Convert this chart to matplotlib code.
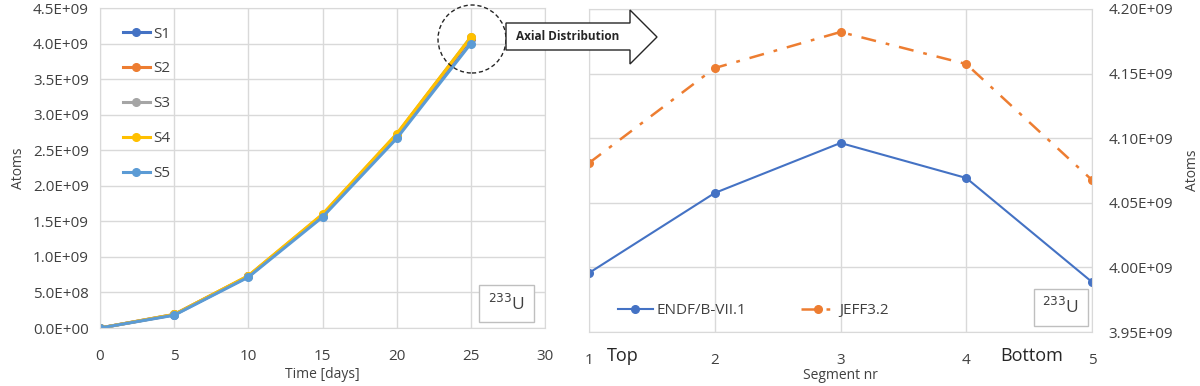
import matplotlib
matplotlib.use("Agg")
import matplotlib.pyplot as plt
from matplotlib.patches import Polygon, Circle

plt.rcParams['font.family'] = ['Open Sans', 'DejaVu Sans']

# Left chart data
time_days = [0, 5, 10, 15, 20, 25]
s1 = [0.0, 0.185e9, 0.725e9, 1.58e9, 2.70e9, 4.07e9]
s2 = [0.0, 0.19e9, 0.73e9, 1.59e9, 2.72e9, 4.08e9]
s3 = [0.0, 0.19e9, 0.73e9, 1.59e9, 2.72e9, 4.09e9]
s4 = [0.0, 0.19e9, 0.735e9, 1.60e9, 2.73e9, 4.09e9]
s5 = [0.0, 0.18e9, 0.715e9, 1.56e9, 2.665e9, 4.00e9]
series_names = ['S1', 'S2', 'S3', 'S4', 'S5']
series_colors = ['#4472C4', '#ED7D31', '#A5A5A5', '#FFC000', '#5B9BD5']
left_yticks = [0, 0.5e9, 1.0e9, 1.5e9, 2.0e9, 2.5e9, 3.0e9, 3.5e9, 4.0e9, 4.5e9]
left_yticklabels = ['0.0E+00', '5.0E+08', '1.0E+09', '1.5E+09', '2.0E+09',
                    '2.5E+09', '3.0E+09', '3.5E+09', '4.0E+09', '4.5E+09']

# Right chart data
segments = [1, 2, 3, 4, 5]
endf = [3.9957e9, 4.0576e9, 4.0963e9, 4.0692e9, 3.9887e9]
jeff = [4.0808e9, 4.1543e9, 4.1822e9, 4.1574e9, 4.0676e9]
right_yticks = [3.95e9, 4.00e9, 4.05e9, 4.10e9, 4.15e9, 4.20e9]
right_yticklabels = ['3.95E+09', '4.00E+09', '4.05E+09', '4.10E+09', '4.15E+09', '4.20E+09']

GRID = '#D9D9D9'
TXT = '#404040'
H = 386

fig = plt.figure(figsize=(12, 3.86), dpi=100)

def px(x0, y0, x1, y1):
    # convert pixel box (top-left origin) to figure fraction rect
    return [x0 / 1200, 1 - y1 / H, (x1 - x0) / 1200, (y1 - y0) / H]

ax1 = fig.add_axes(px(100, 8, 545, 328))
series = [s1, s2, s3, s4, s5]
for name, vals, c in zip(series_names, series, series_colors):
    ax1.plot(time_days, vals, color=c, lw=2.2, marker='o', ms=5.5, label=name)
ax1.set_xlim(0, 30)
ax1.set_ylim(0, 4.5e9)
ax1.set_xticks([0, 5, 10, 15, 20, 25, 30])
ax1.set_yticks(left_yticks)
ax1.set_yticklabels(left_yticklabels)
ax1.grid(True, color=GRID, lw=1)
ax1.set_axisbelow(True)
for sp in ax1.spines.values():
    sp.set_color(GRID)
ax1.tick_params(length=0, labelsize=11, colors=TXT)
ax1.tick_params(axis='x', pad=15)
ax1.tick_params(axis='y', pad=8)
ax1.set_xlabel('Time [days]', fontsize=10, color=TXT, labelpad=2)
ax1.set_ylabel('Atoms', fontsize=10, color=TXT, labelpad=5)
leg1 = ax1.legend(loc='upper left', bbox_to_anchor=(0.02, 0.985), frameon=False,
                  fontsize=11, handlelength=1.8, labelspacing=1.3, handletextpad=0.2)
for t in leg1.get_texts():
    t.set_color(TXT)
ax1.text(0.955, 0.045, '$^{233}$U', transform=ax1.transAxes, fontsize=12.5,
         color=TXT, ha='right', va='bottom',
         bbox=dict(boxstyle='square,pad=0.5', fc='white', ec='#BFBFBF', lw=1))

ax2 = fig.add_axes(px(589, 9, 1092, 332))
ax2.plot(segments, endf, color='#4472C4', lw=1.5, marker='o', ms=5.5, label='ENDF/B-VII.1')
ax2.plot(segments, jeff, color='#ED7D31', lw=1.8, marker='o', ms=5.5, label='JEFF3.2',
         linestyle=(0, (6, 4, 1.5, 4)))
ax2.set_xlim(1, 5)
ax2.set_ylim(3.95e9, 4.20e9)
ax2.set_xticks(segments)
ax2.set_yticks(right_yticks)
ax2.set_yticklabels(right_yticklabels)
ax2.yaxis.tick_right()
ax2.yaxis.set_label_position('right')
ax2.grid(True, color=GRID, lw=1)
ax2.set_axisbelow(True)
for sp in ax2.spines.values():
    sp.set_color(GRID)
ax2.tick_params(length=0, labelsize=11, colors=TXT)
ax2.tick_params(axis='x', pad=15)
ax2.tick_params(axis='y', pad=12)
ax2.set_xlabel('Segment nr', fontsize=10, color=TXT, labelpad=0)
ax2.set_ylabel('Atoms', fontsize=10, color=TXT, labelpad=8)
leg2 = ax2.legend(loc='lower left', bbox_to_anchor=(0.03, 0.0), ncol=2, frameon=False,
                  fontsize=11, handlelength=2.3, columnspacing=3.6, handletextpad=0.2)
for t in leg2.get_texts():
    t.set_color(TXT)
ax2.text(0.975, 0.045, '$^{233}$U', transform=ax2.transAxes, fontsize=12.5,
         color=TXT, ha='right', va='bottom',
         bbox=dict(boxstyle='square,pad=0.5', fc='white', ec='#BFBFBF', lw=1))
fig.text(623 / 1200, 1 - 356 / H, 'Top', fontsize=13, color='#262626', ha='center', va='center')
fig.text(1032 / 1200, 1 - 356 / H, 'Bottom', fontsize=13, color='#262626', ha='center', va='center')

# Dashed circle and block arrow (figure pixel coordinates)
circ = Circle((472, H - 39), 34, transform=None, fill=False, ls=(0, (3, 2)),
              ec='#262626', lw=1)
fig.patches.append(circ)
arrow_pts = [(506, 23), (630, 23), (630, 10), (657, 37), (630, 64), (630, 50), (506, 50)]
arrow = Polygon([(x, H - y) for x, y in arrow_pts], closed=True, transform=None,
                fc='white', ec='#262626', lw=1)
fig.patches.append(arrow)
fig.text(568 / 1200, 1 - 37 / H, 'Axial Distribution', fontsize=8.5, fontweight='bold',
         color='#262626', ha='center', va='center')

fig.savefig('out.png', dpi=100)
